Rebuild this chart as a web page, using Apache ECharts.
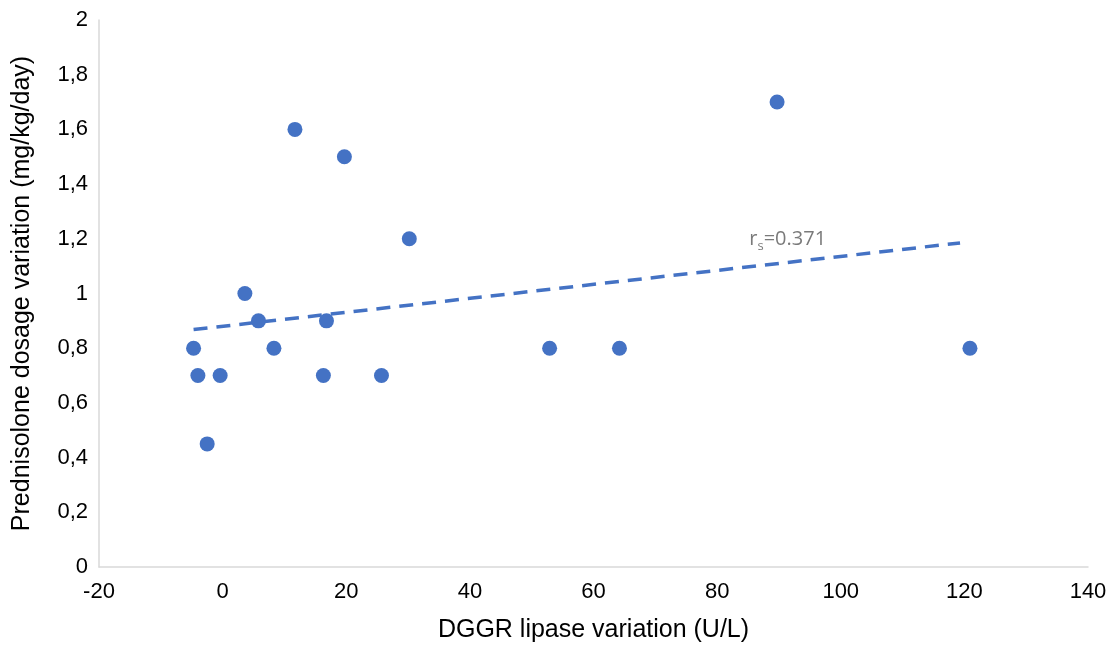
<!DOCTYPE html>
<html>
<head>
<meta charset="utf-8">
<script src="https://cdn.jsdelivr.net/npm/echarts@6/dist/echarts.min.js"></script>
<style>
html, body { margin: 0; padding: 0; background: #fff; }
#main { width: 1116px; height: 648px; }
</style>
</head>
<body>
<div id="main"></div>
<script>
// lipase variation (U/L) vs prednisolone dosage variation (mg/kg/day)
var lipase = [-4.7, -4.0, -2.5, -0.4, 3.6, 5.8, 8.3, 11.7, 16.3, 16.8, 19.7, 25.7, 30.2, 52.9, 64.2, 89.7, 120.9];
var dosage = [0.8, 0.7, 0.45, 0.7, 1.0, 0.9, 0.8, 1.6, 0.7, 0.9, 1.5, 0.7, 1.2, 0.8, 0.8, 1.7, 0.8];
var trendX = [-4.7, 119.3];
var trendY = [0.868, 1.185];
var labelPos = [85.2, 1.2];

var points = lipase.map(function (x, i) { return [x, dosage[i]]; });
var trend = trendX.map(function (x, i) { return [x, trendY[i]]; });

var chart = echarts.init(document.getElementById('main'));
var tickFont = { fontFamily: 'Liberation Sans, Arial, sans-serif', fontSize: 22, color: '#000' };
var titleFont = { fontFamily: 'Liberation Sans, Arial, sans-serif', fontSize: 25, color: '#000' };

var option = {
    animation: false,
    grid: { left: 99, right: 28, top: 20, bottom: 80 },
    xAxis: {
        type: 'value',
        min: -20, max: 140, interval: 20,
        name: 'DGGR lipase variation (U/L)',
        nameLocation: 'middle',
        nameGap: 51,
        nameTextStyle: titleFont,
        axisLine: { show: true, onZero: false, lineStyle: { color: '#d9d9d9', width: 1.5 } },
        axisTick: { show: false },
        splitLine: { show: false },
        axisLabel: Object.assign({ margin: 14 }, tickFont)
    },
    yAxis: {
        type: 'value',
        min: 0, max: 2, interval: 0.2,
        name: 'Prednisolone dosage variation (mg/kg/day)',
        nameLocation: 'middle',
        nameGap: 64,
        nameTextStyle: titleFont,
        axisLine: { show: true, onZero: false, lineStyle: { color: '#d9d9d9', width: 1.5 } },
        axisTick: { show: false },
        splitLine: { show: false },
        axisLabel: Object.assign({
            margin: 11,
            formatter: function (v) { return String(Math.round(v * 10) / 10).replace('.', ','); }
        }, tickFont)
    },
    series: [
        {
            type: 'line',
            data: trend,
            symbol: 'none',
            z: 1,
            lineStyle: { color: '#4472c4', width: 3.5, type: [14, 9] }
        },
        {
            type: 'scatter',
            data: points,
            symbolSize: 15,
            z: 2,
            itemStyle: { color: '#4472c4', opacity: 1 }
        },
        {
            type: 'scatter',
            data: [labelPos],
            symbolSize: 0,
            silent: true,
            label: {
                show: true,
                position: 'right',
                distance: 0,
                formatter: '{a|r}{b|s}{a|=0.371}',
                rich: {
                    a: { fontFamily: 'Open Sans, Noto Sans, sans-serif', fontSize: 20, color: '#595959', lineHeight: 26 },
                    b: { fontFamily: 'Open Sans, Noto Sans, sans-serif', fontSize: 13, color: '#595959', padding: [14, 0, 0, 0] }
                }
            }
        }
    ]
};

chart.setOption(option);
</script>
</body>
</html>
